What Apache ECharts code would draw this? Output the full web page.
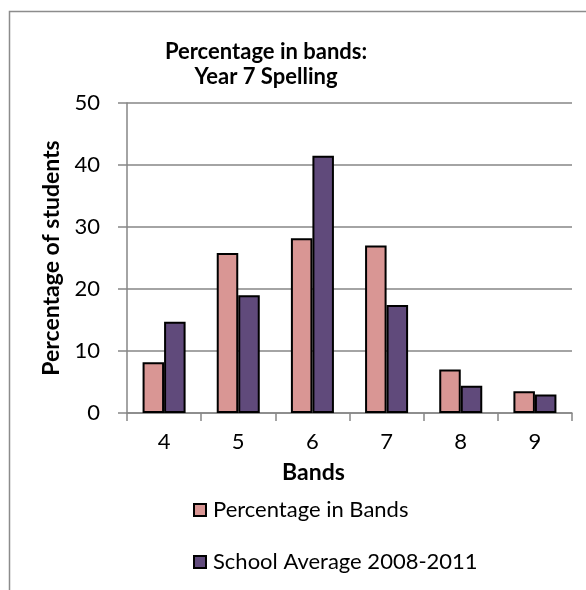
<!DOCTYPE html>
<html>
<head>
<meta charset="utf-8">
<script src="https://cdn.jsdelivr.net/npm/echarts@6/dist/echarts.min.js"></script>
<style>
  html, body { margin: 0; padding: 0; background: #fff; }
  #chart { width: 586px; height: 590px; }
</style>
</head>
<body>
<div id="chart"></div>
<script>
// Year 7 spelling results by band
const bands = ['4', '5', '6', '7', '8', '9'];
const percentageInBands = [8.2, 25.8, 28.2, 27.0, 7.0, 3.5];
const schoolAverage = [14.7, 19.0, 41.5, 17.4, 4.4, 3.0];
const yTicks = [0, 10, 20, 30, 40, 50];

const FONT = 'Lato, "Open Sans", sans-serif';
const GRID = '#868686';

const chart = echarts.init(document.getElementById('chart'), null, { renderer: 'canvas' });

chart.setOption({
  animation: false,
  backgroundColor: '#ffffff',
  textStyle: { fontFamily: FONT, color: '#000' },
  graphic: [{
    type: 'rect',
    shape: { x: 9.5, y: 11.5, width: 700, height: 700 },
    style: { fill: 'none', stroke: '#8c8c8c', lineWidth: 1.5 },
    silent: true,
    z: -1
  }],
  title: {
    text: 'Percentage in bands:\nYear 7 Spelling',
    left: 266,
    top: 39,
    textAlign: 'center',
    padding: 0,
    textStyle: { fontFamily: FONT, fontSize: 22, fontWeight: 'bold', lineHeight: 25, color: '#000' }
  },
  legend: {
    orient: 'vertical',
    left: 193,
    top: 499,
    itemWidth: 12,
    itemHeight: 12,
    itemGap: 30,
    icon: 'rect',
    padding: 0,
    textStyle: { fontFamily: FONT, fontSize: 22, color: '#000', padding: [0, 0, 0, 2] },
    data: ['Percentage in Bands', 'School Average 2008-2011']
  },
  grid: { left: 127, right: 14, top: 103, bottom: 177, containLabel: false },
  xAxis: {
    type: 'category',
    data: bands,
    boundaryGap: true,
    name: 'Bands',
    nameLocation: 'middle',
    nameGap: 48,
    nameTextStyle: { fontFamily: FONT, fontSize: 23, fontWeight: 'bold', color: '#000', padding: [0, 72, 0, 0] },
    axisLine: { lineStyle: { color: GRID, width: 1.5 } },
    axisTick: { show: true, length: 8, lineStyle: { color: GRID, width: 1.5 } },
    axisLabel: { fontFamily: FONT, fontSize: 22, color: '#000', margin: 18 }
  },
  yAxis: {
    type: 'value',
    min: 0,
    max: 50,
    interval: 10,
    name: 'Percentage of students',
    nameLocation: 'middle',
    nameGap: 64,
    nameTextStyle: { fontFamily: FONT, fontSize: 23, fontWeight: 'bold', color: '#000' },
    axisLine: { show: true, lineStyle: { color: GRID, width: 1.5 } },
    axisTick: { show: true, length: 9, lineStyle: { color: GRID, width: 1.5 } },
    axisLabel: {
      fontFamily: FONT, fontSize: 22, color: '#000', margin: 27,
      formatter: v => (yTicks.indexOf(v) >= 0 ? String(v) : '')
    },
    splitLine: { show: true, lineStyle: { color: GRID, width: 1.5 } }
  },
  series: [
    {
      name: 'Percentage in Bands',
      type: 'bar',
      data: percentageInBands,
      barGap: '0%',
      barCategoryGap: '42%',
      itemStyle: { color: '#D99694', borderColor: '#000', borderWidth: 2 }
    },
    {
      name: 'School Average 2008-2011',
      type: 'bar',
      data: schoolAverage,
      barGap: '0%',
      barCategoryGap: '42%',
      itemStyle: { color: '#604A7B', borderColor: '#000', borderWidth: 2 }
    }
  ]
});
</script>
</body>
</html>
